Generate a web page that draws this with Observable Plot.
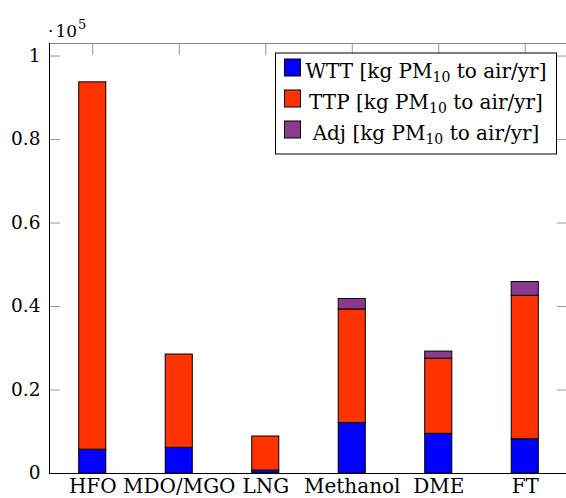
<!DOCTYPE html>
<html><head><meta charset="utf-8">
<script src="https://cdn.jsdelivr.net/npm/d3@7"></script>
<script src="https://cdn.jsdelivr.net/npm/@observablehq/plot@0.6"></script>
<style>
html,body{margin:0;padding:0;overflow:hidden;background:#fff;}
#chart{position:relative;width:566px;height:498px;overflow:hidden;}
#chart svg{max-width:none !important;}
</style></head>
<body><div id="chart"></div>
<script>
const fuels = ["HFO", "MDO/MGO", "LNG", "Methanol", "DME", "FT"];
const seriesNames = ["WTT", "TTP", "Adj"];
const wtt = [5700, 6150, 700, 12100, 9500, 8200];
const ttp = [88000, 22350, 8160, 27200, 18000, 34360];
const adj = [0, 0, 0, 2500, 1700, 3300];
const seriesColors = ["#0000ff", "#ff3300", "#8b3a8e"];
const yTicks = [0, 20000, 40000, 60000, 80000, 100000];
const yTickLabels = ["0", "0.2", "0.4", "0.6", "0.8", "1"];
const legendPrefix = ["WTT", "TTP", "Adj"];
const legendUnitA = " [kg PM";
const legendSub = "10";
const legendUnitB = " to air/yr]";

const W = 570, H = 498, mL = 49, mR = 2, mT = 43, mB = 25;
const innerW = W - mL - mR;

const rows = [];
[wtt, ttp, adj].forEach((arr, si) => {
  fuels.forEach((f, i) => { if (arr[i] > 0) rows.push({fuel: f, series: seriesNames[si], value: arr[i]}); });
});

const plot = Plot.plot({
  width: W, height: H,
  marginLeft: mL, marginRight: mR, marginTop: mT, marginBottom: mB,
  style: {fontFamily: "'DejaVu Serif', serif", fontSize: "18px", color: "#000", background: "transparent", maxWidth: "none"},
  x: {domain: fuels, paddingInner: 0.687, paddingOuter: 0.3435, round: false, axis: null, label: null},
  y: {domain: [0, 103000], axis: null, label: null},
  color: {domain: seriesNames, range: seriesColors},
  marks: [
    Plot.frame({stroke: "#888"}),
    Plot.tickY(yTicks, {y: d => d, stroke: "#999", insetRight: innerW - 11}),
    Plot.tickY(yTicks, {y: d => d, stroke: "#999", insetLeft: innerW - 11}),
    Plot.axisX({anchor: "top", tickSize: -11, stroke: "#999", tickFormat: () => "", label: null}),
    Plot.barY(rows, {x: "fuel", y: "value", fill: "series", z: "series", stroke: "#000", strokeWidth: 1}),
    Plot.ruleY([0], {stroke: "#000"}),
    Plot.frame({anchor: "left", stroke: "#000"}),
    Plot.axisY(yTicks, {anchor: "left", tickSize: 0, tickPadding: 9, tickFormat: d => yTickLabels[yTicks.indexOf(d)], label: null, fontSize: 18.5}),
    Plot.axisX({anchor: "bottom", tickSize: 0, tickPadding: 5.5, label: null, fontSize: 20})
  ]
});
plot.style.maxWidth = "none";
document.getElementById("chart").appendChild(plot);

const svg = d3.select(plot);
// scale multiplier label
const mult = svg.append("text").attr("x", 48).attr("y", 37).attr("text-anchor", "start")
  .style("font-family", "'DejaVu Serif', serif").style("font-size", "17px").attr("fill", "#000");
mult.append("tspan").text("\u00B7");
mult.append("tspan").attr("dx", 2).text("10");
mult.append("tspan").style("font-size", "13px").attr("dx", 1).attr("dy", -8).text("5");

// legend
const lg = svg.append("g").style("font-family", "'DejaVu Serif', serif");
lg.append("rect").attr("x", 275.5).attr("y", 53).attr("width", 281).attr("height", 101)
  .attr("fill", "#fff").attr("stroke", "#000");
const baselines = [78, 109, 140];
seriesNames.forEach((s, i) => {
  lg.append("rect").attr("x", 284.5).attr("y", baselines[i] - 19).attr("width", 16).attr("height", 17)
    .attr("fill", seriesColors[i]).attr("stroke", "#000").attr("stroke-width", 1);
  const t = lg.append("text").attr("x", 426).attr("y", baselines[i]).attr("text-anchor", "middle")
    .style("font-size", "20px").attr("fill", "#000");
  t.append("tspan").text(legendPrefix[i] + legendUnitA);
  t.append("tspan").style("font-size", "14px").attr("dy", 4).text(legendSub);
  t.append("tspan").attr("dy", -4).text(legendUnitB);
});
</script>
</body></html>
